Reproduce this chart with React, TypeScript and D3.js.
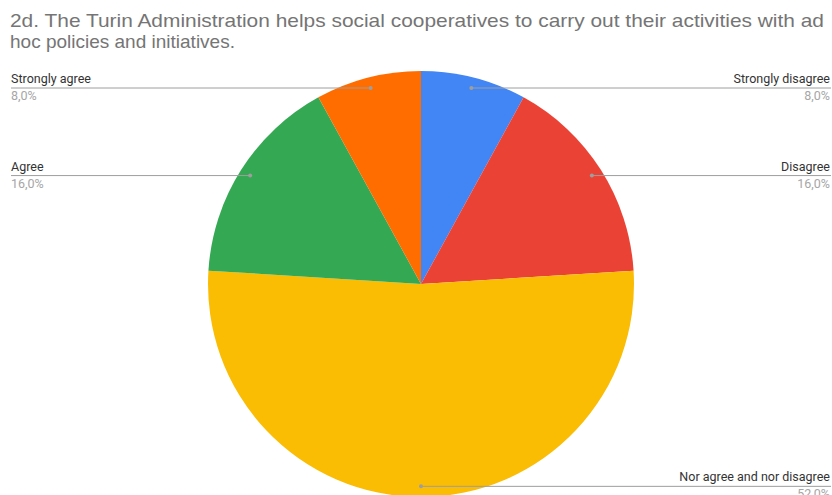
import React from "react";
import * as d3 from "d3";

const categories = ["Strongly disagree", "Disagree", "Nor agree and nor disagree", "Agree", "Strongly agree"];
const values = [8, 16, 52, 16, 8];
const colors = ["#4285F4", "#EA4335", "#FBBC04", "#34A853", "#FF6D01"];
const titleLines = [
  "2d. The Turin Administration helps social cooperatives to carry out their activities with ad",
  "hoc policies and initiatives.",
];

export default function App() {
  const W = 832, H = 495;
  const cx = 421, cy = 284, r = 213;
  const pie = d3.pie<number>().sort(null).value((d) => d);
  const arcs = pie(values);
  const arc = d3.arc<d3.PieArcDatum<number>>().innerRadius(0).outerRadius(r);
  const fmt = (v: number) => d3.format(".1f")(v).replace(".", ",") + "%";
  return (
    <svg width={W} height={H} style={{ position: "absolute", left: 0, top: 0, background: "#fff" }}>
      {titleLines.map((t, i) => (
        <text key={i} x={10} y={27 + i * 21} fontFamily="Liberation Sans, Arial, sans-serif" fontSize={19} fill="#757575" textLength={i === 0 ? 814 : undefined} lengthAdjust="spacingAndGlyphs">
          {t}
        </text>
      ))}
      <g transform={`translate(${cx},${cy})`}>
        {arcs.map((a, i) => (
          <path key={i} d={arc(a) || ""} fill={colors[i]} />
        ))}
      </g>
      {arcs.map((a, i) => {
        const mid = (a.startAngle + a.endAngle) / 2;
        const dr = r * 0.95;
        const dx = cx + Math.sin(mid) * dr;
        const dy = cy - Math.cos(mid) * dr;
        const right = Math.sin(mid) >= -1e-6;
        const x2 = right ? 831 : 11;
        const anchor = right ? "end" : "start";
        const tx = right ? 830 : 11;
        return (
          <g key={"l" + i}>
            <line x1={dx} y1={dy} x2={x2} y2={dy} stroke="#9e9e9e" strokeWidth={1} />
            <circle cx={dx} cy={dy} r={2} fill="#9e9e9e" />
            <text x={tx} y={dy - 5} textAnchor={anchor} fontFamily="Roboto, sans-serif" fontSize={12.5} fill="#333">
              {categories[i]}
            </text>
            <text x={tx} y={dy + 12} textAnchor={anchor} fontFamily="Roboto, sans-serif" fontSize={12.5} fill="#a6a6a6">
              {fmt(values[i])}
            </text>
          </g>
        );
      })}
    </svg>
  );
}
